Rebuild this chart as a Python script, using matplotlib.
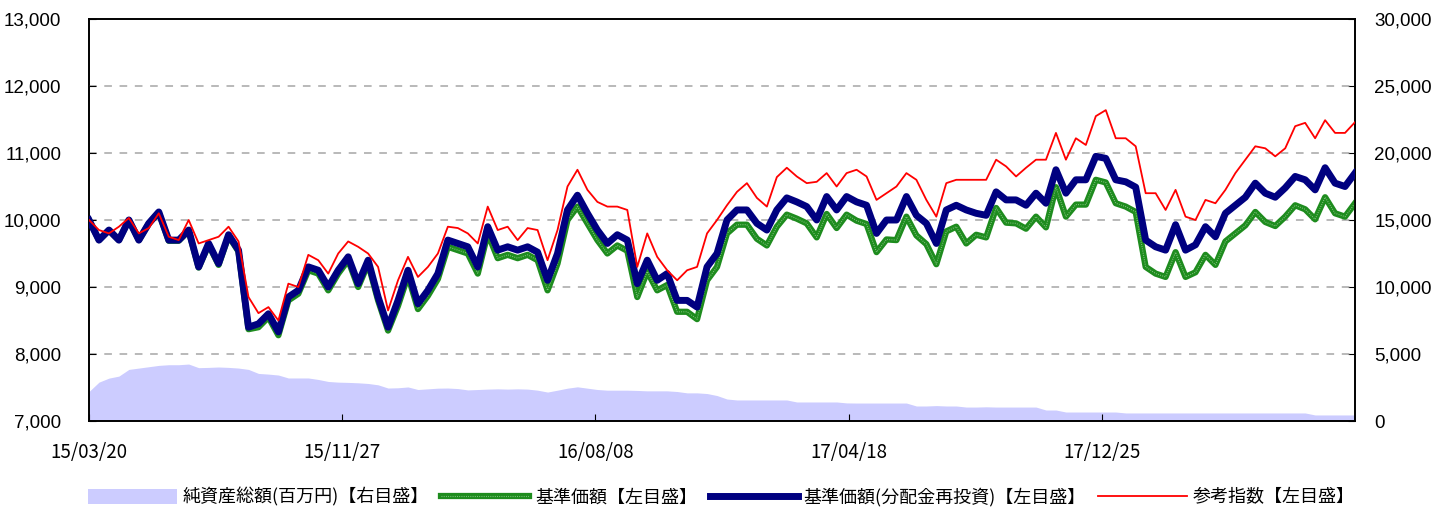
import numpy as np
import matplotlib
matplotlib.use("Agg")
import matplotlib.pyplot as plt
from matplotlib.patches import Patch
from matplotlib.ticker import FuncFormatter

# ---------- data (~weekly samples) ----------
date_labels = ["15/03/20", "15/11/27", "16/08/08", "17/04/18", "17/12/25"]

# 参考指数
index_ref = [
    10000, 9850, 9800, 9900, 10030, 9800, 9880, 10100, 9750, 9700,
    10000, 9650, 9700, 9750, 9900, 9680, 8850, 8610, 8700, 8500,
    9050, 9000, 9480, 9400, 9200, 9500, 9680, 9600, 9500, 9300,
    8650, 9100, 9450, 9150, 9300, 9500, 9900, 9880, 9800, 9650,
    10200, 9850, 9900, 9700, 9880, 9850, 9400, 9850, 10500, 10750,
    10450, 10270, 10200, 10200, 10150, 9300, 9800, 9450, 9250, 9100,
    9250, 9300, 9800, 10000, 10220, 10420, 10550, 10330, 10200, 10640,
    10780, 10650, 10550, 10570, 10700, 10500, 10700, 10750, 10650, 10300,
    10400, 10500, 10700, 10600, 10300, 10050, 10550, 10600, 10600, 10600,
    10600, 10900, 10800, 10650, 10780, 10900, 10900, 11300, 10900, 11220,
    11120, 11550, 11640, 11220, 11220, 11100, 10400, 10400, 10150, 10450,
    10050, 10000, 10300, 10250, 10450, 10700, 10900, 11100, 11070, 10950,
    11070, 11400, 11450, 11220, 11490, 11300, 11300, 11460,
]

# 基準価額(分配金再投資)
nav_reinv = [
    10000, 9700, 9850, 9700, 10000, 9700, 9950, 10120, 9700, 9700,
    9850, 9300, 9650, 9350, 9780, 9550, 8400, 8450, 8600, 8330,
    8850, 8950, 9300, 9250, 9000, 9250, 9450, 9050, 9400, 8850,
    8400, 8800, 9250, 8750, 8950, 9200, 9700, 9650, 9600, 9300,
    9900, 9550, 9600, 9550, 9600, 9520, 9100, 9500, 10150, 10370,
    10100, 9850, 9650, 9780, 9700, 9050, 9400, 9100, 9200, 8800,
    8800, 8700, 9300, 9500, 10000, 10150, 10150, 9950, 9850, 10150,
    10330, 10270, 10200, 10000, 10350, 10150, 10350, 10270, 10220, 9800,
    10000, 10000, 10350, 10070, 9950, 9650, 10150, 10220, 10150, 10100,
    10070, 10420, 10300, 10300, 10220, 10400, 10250, 10750, 10400, 10600,
    10600, 10950, 10920, 10600, 10570, 10490, 9700, 9600, 9550, 9930,
    9550, 9630, 9900, 9750, 10100, 10220, 10340, 10550, 10400, 10340,
    10480, 10650, 10600, 10450, 10780, 10550, 10500, 10700,
]

# 基準価額
nav = [
    10000, 9700, 9850, 9700, 10000, 9700, 9950, 10110, 9690, 9690,
    9840, 9290, 9630, 9330, 9760, 9530, 8370, 8400, 8550, 8280,
    8800, 8900, 9250, 9200, 8950, 9200, 9400, 9000, 9350, 8800,
    8350, 8720, 9170, 8670, 8870, 9120, 9600, 9550, 9500, 9200,
    9800, 9430, 9480, 9430, 9480, 9400, 8950, 9350, 10000, 10200,
    9950, 9700, 9500, 9620, 9540, 8850, 9230, 8950, 9030, 8630,
    8630, 8520, 9100, 9300, 9800, 9930, 9930, 9720, 9620, 9900,
    10080, 10020, 9950, 9740, 10090, 9880, 10080, 9990, 9940, 9520,
    9710, 9700, 10050, 9770, 9640, 9340, 9830, 9900, 9650, 9780,
    9740, 10180, 9960, 9950, 9870, 10050, 9890, 10490, 10050, 10230,
    10230, 10600, 10560, 10250, 10200, 10120, 9300, 9200, 9150, 9520,
    9150, 9220, 9480, 9330, 9680, 9800, 9920, 10120, 9970, 9910,
    10050, 10220, 10160, 10010, 10340, 10100, 10050, 10250,
]

# 純資産総額(百万円)
net_assets = [
    2200, 2900, 3200, 3350, 3850, 3950, 4050, 4150, 4200, 4200,
    4250, 3980, 4000, 4030, 4000, 3950, 3850, 3550, 3500, 3430,
    3210, 3210, 3210, 3100, 2950, 2900, 2880, 2850, 2800, 2700,
    2460, 2480, 2540, 2350, 2400, 2450, 2460, 2420, 2320, 2350,
    2380, 2400, 2380, 2400, 2380, 2300, 2160, 2300, 2450, 2550,
    2450, 2350, 2300, 2300, 2300, 2280, 2250, 2250, 2250, 2200,
    2100, 2100, 2050, 1900, 1640, 1570, 1570, 1570, 1570, 1570,
    1570, 1420, 1420, 1420, 1420, 1420, 1350, 1340, 1340, 1340,
    1340, 1340, 1340, 1120, 1120, 1150, 1120, 1120, 1040, 1040,
    1060, 1040, 1040, 1040, 1040, 1040, 820, 820, 670, 670,
    670, 670, 670, 670, 600, 600, 600, 600, 600, 600,
    600, 600, 600, 600, 600, 600, 600, 600, 600, 600,
    600, 600, 600, 450, 450, 450, 450, 450,
]

x = np.linspace(0, 5, len(nav))

# ---------- plot ----------
plt.rcParams['font.family'] = ['Liberation Sans', 'Noto Sans CJK JP']
jp = ['Noto Sans CJK JP', 'DejaVu Sans']

fig = plt.figure(figsize=(14.31, 5.08), dpi=100)
ax = fig.add_axes([89/1431, 1 - 421/508, (1355-89)/1431, (421-19)/508])
ax2 = ax.twinx()

area_col = '#CCCCFF'
ax2.fill_between(x, 0, net_assets, color=area_col, lw=0)
ax2.set_ylim(0, 30000)
ax2.set_yticks(np.arange(0, 30001, 5000))

ax.set_zorder(ax2.get_zorder() + 1)
ax.patch.set_visible(False)

# grid on the left scale
for v in range(8000, 13000, 1000):
    ax.axhline(v, color='#A6A6A6', lw=1.1, ls=(0, (5, 5)), zorder=0)

g1, = ax.plot(x, nav, color='#1E8C1E', lw=4.5, solid_joinstyle='round', zorder=2)
g2, = ax.plot(x, nav, color='#CDEBC8', lw=0.8, ls=(0, (0.8, 1.2)), alpha=0.6, zorder=2.1)
nv, = ax.plot(x, nav_reinv, color='#000080', lw=5, solid_joinstyle='round', zorder=3)
rd, = ax.plot(x, index_ref, color='#FF0000', lw=1.3, zorder=4)

ax.set_xlim(0, 5)
ax.set_ylim(7000, 13000)
ax.set_yticks(np.arange(7000, 13001, 1000))
ax.set_xticks(range(len(date_labels)))
ax.set_xticklabels(date_labels, family=jp, fontsize=13.5)

fmt = FuncFormatter(lambda v, p: f"{int(v):,}")
ax.yaxis.set_major_formatter(fmt)
ax2.yaxis.set_major_formatter(fmt)

ax.tick_params(axis='y', direction='in', length=5, labelsize=13.5, pad=20)
ax.tick_params(axis='x', direction='in', length=5, pad=15)
ax2.tick_params(axis='y', direction='in', length=5, labelsize=13.5, pad=14)

for a in (ax, ax2):
    for s in a.spines.values():
        s.set_color('black')
        s.set_linewidth(1.2)

handles = [Patch(facecolor=area_col, edgecolor='none'), (g1, g2), nv, rd]
labels = ["純資産総額(百万円)【右目盛】", "基準価額【左目盛】",
          "基準価額(分配金再投資)【左目盛】", "参考指数【左目盛】"]
fig.legend(handles, labels, loc='center', bbox_to_anchor=(0.504, 0.022), ncol=4,
           frameon=False, prop={'family': jp, 'size': 13}, handlelength=4.9,
           handletextpad=0.3, columnspacing=0.7, handleheight=0.9)

fig.savefig("out.png", dpi=100)
